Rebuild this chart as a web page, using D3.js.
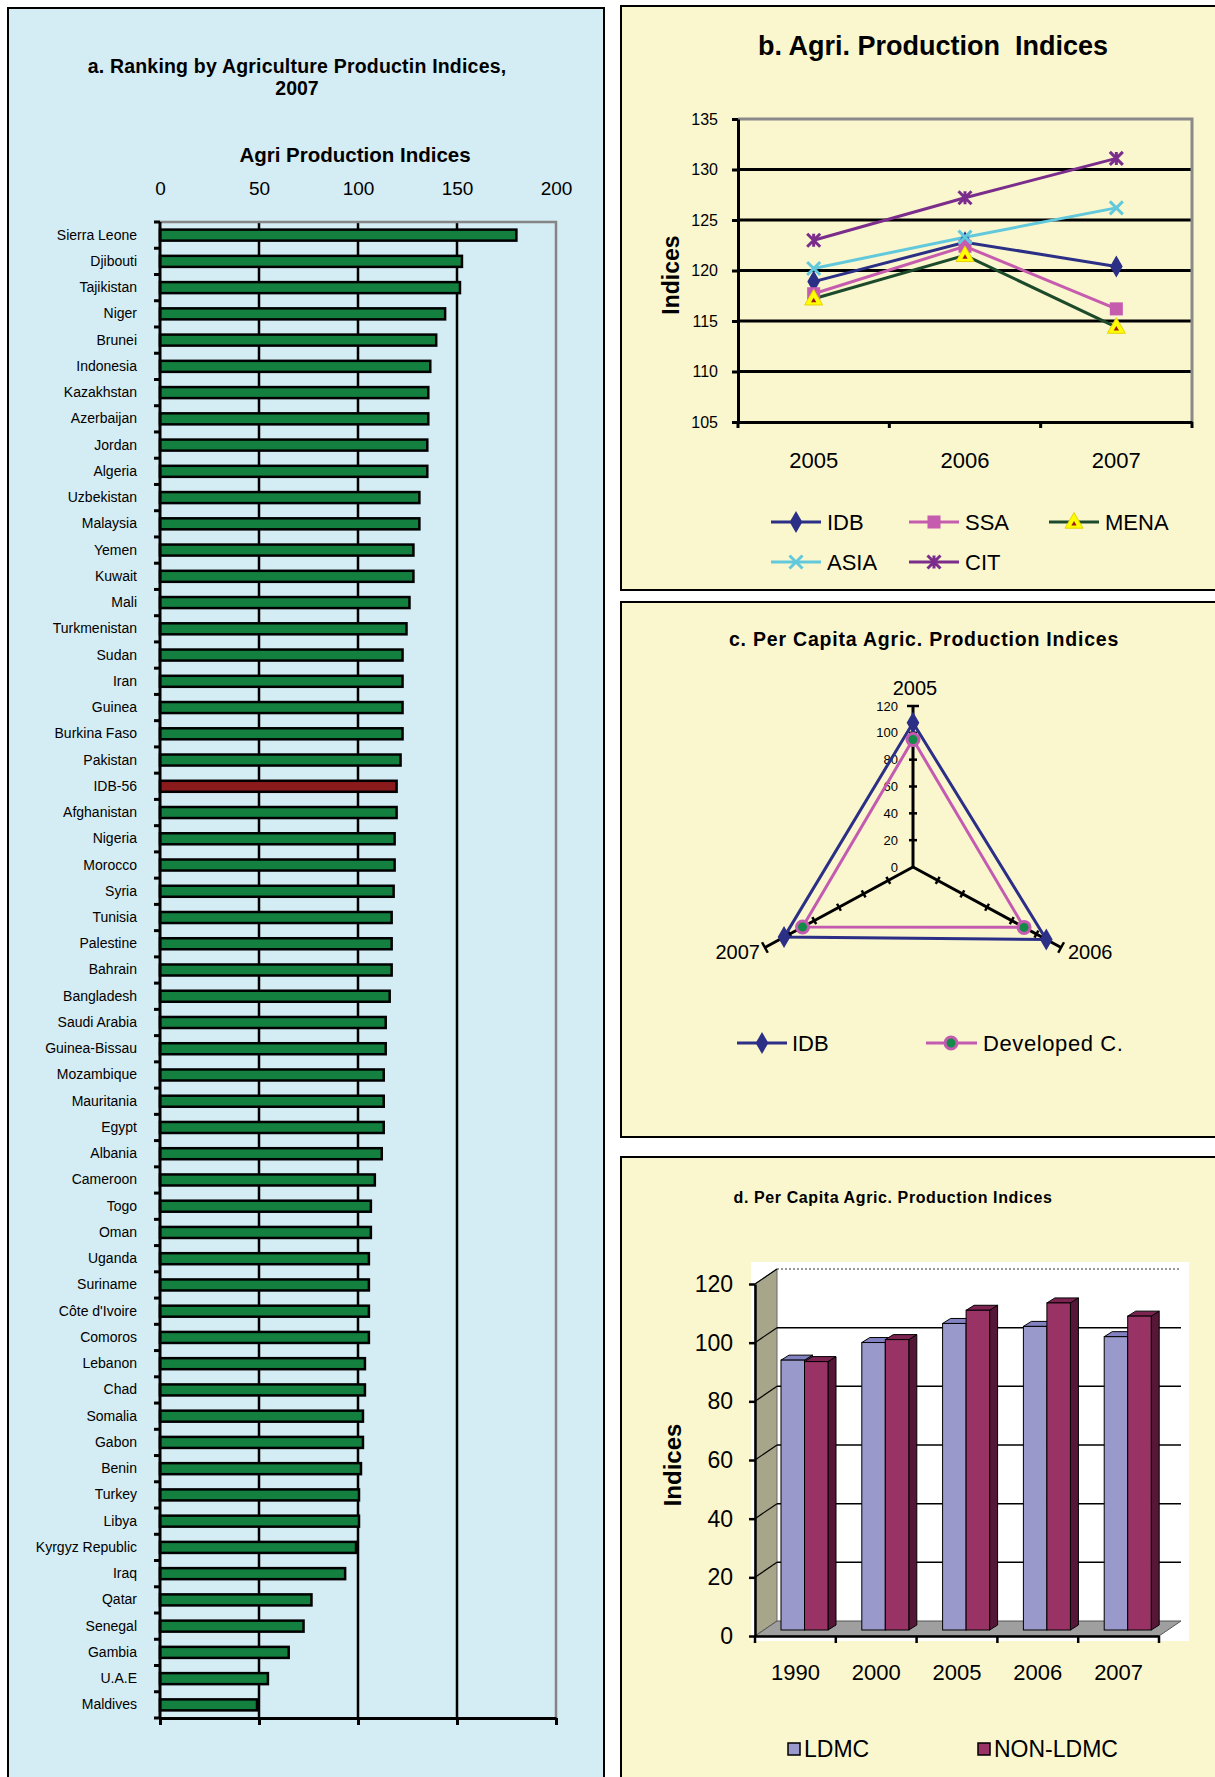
<!DOCTYPE html>
<html lang="en">
  <head>
    <meta charset="UTF-8" />
    <title>Agricultural Production Indices</title>
    <script src="https://d3js.org/d3.v7.min.js"></script>
    <style>
      body {
        margin: 0;
        padding: 0;
        background: #fff;
      }
      svg {
        display: block;
        font-family: "Liberation Sans", Arial, Helvetica, sans-serif;
      }
    </style>
  </head>
  <body>
    <svg width="1215" height="1777"></svg>
    <script>
      // ---------- data ----------
      // a. ranking 2007
      const countries = [
        "Sierra Leone", "Djibouti", "Tajikistan", "Niger", "Brunei", "Indonesia",
        "Kazakhstan", "Azerbaijan", "Jordan", "Algeria", "Uzbekistan", "Malaysia",
        "Yemen", "Kuwait", "Mali", "Turkmenistan", "Sudan", "Iran", "Guinea",
        "Burkina Faso", "Pakistan", "IDB-56", "Afghanistan", "Nigeria", "Morocco",
        "Syria", "Tunisia", "Palestine", "Bahrain", "Bangladesh", "Saudi Arabia",
        "Guinea-Bissau", "Mozambique", "Mauritania", "Egypt", "Albania", "Cameroon",
        "Togo", "Oman", "Uganda", "Suriname", "Côte d'Ivoire", "Comoros", "Lebanon",
        "Chad", "Somalia", "Gabon", "Benin", "Turkey", "Libya", "Kyrgyz Republic",
        "Iraq", "Qatar", "Senegal", "Gambia", "U.A.E", "Maldives"
      ];
      const indices2007 = [
        180, 152.5, 151.5, 144, 139.5, 136.5,
        135.5, 135.5, 135, 135, 131, 131,
        128, 128, 126, 124.5, 122.5, 122.5, 122.5,
        122.5, 121.5, 119.5, 119.5, 118.5, 118.5,
        118, 117, 117, 117, 116, 114,
        114, 113, 113, 113, 112, 108.5,
        106.5, 106.5, 105.5, 105.5, 105.5, 105.5, 103.5,
        103.5, 102.5, 102.5, 101.5, 100.5, 100.5, 99,
        93.5, 76.5, 72.5, 65, 54.5, 49
      ];
      const highlightA = "IDB-56";
      const ticksA = [0, 50, 100, 150, 200];

      // b. agri production indices
      const yearsB = ["2005", "2006", "2007"];
      const idbB = [118.9, 122.8, 120.4];
      const ssaB = [117.7, 122.4, 116.2];
      const menaB = [117.2, 121.5, 114.4];
      const asiaB = [120.2, 123.3, 126.2];
      const citB = [123.0, 127.2, 131.1];
      const ticksB = [105, 110, 115, 120, 125, 130, 135];

      // c. per capita (radar)
      const yearsC = ["2005", "2006", "2007"];
      const idbC = [107.5, 108, 104.5];
      const developedC = [95, 90, 89.5];
      const ticksC = [0, 20, 40, 60, 80, 100, 120];

      // d. per capita (3d bars)
      const yearsD = ["1990", "2000", "2005", "2006", "2007"];
      const ldmcD = [92, 98, 104.5, 103.5, 100];
      const nonLdmcD = [91.5, 99, 109, 111.5, 107];
      const ticksD = [0, 20, 40, 60, 80, 100, 120];

      // ---------- setup ----------
      const svg = d3.select("svg");
      const font = '"Liberation Sans", Arial, Helvetica, sans-serif';

      function frame(x, y, w, h, fill) {
        svg.append("rect")
          .attr("x", x).attr("y", y).attr("width", w).attr("height", h)
          .attr("fill", fill).attr("stroke", "#000").attr("stroke-width", 2);
      }
      frame(8, 8, 596, 1800, "#d4ecf3");
      frame(621, 6, 640, 584, "#faf7cf");
      frame(621, 602, 640, 535, "#faf7cf");
      frame(621, 1157, 640, 660, "#faf7cf");

      function styleAxis(g, size, width) {
        g.attr("font-family", font).attr("font-size", size);
        g.selectAll("path, line").attr("stroke", "#000").attr("stroke-width", width);
        g.selectAll("text").attr("fill", "#000");
      }

      // ---------- a. ranking ----------
      const gA = svg.append("g");
      const xA = d3.scaleLinear().domain([0, 200]).range([160, 556]);
      const yA = d3.scaleBand().domain(countries).range([222, 1718])
        .paddingInner(0.58).paddingOuter(0.29);

      gA.append("text").attr("x", 297).attr("y", 73).attr("text-anchor", "middle")
        .attr("font-size", 19.5).attr("font-weight", "bold").attr("letter-spacing", 0.2)
        .text("a. Ranking by Agriculture Productin Indices,");
      gA.append("text").attr("x", 297).attr("y", 95).attr("text-anchor", "middle")
        .attr("font-size", 19.5).attr("font-weight", "bold").text("2007");
      gA.append("text").attr("x", 355).attr("y", 162).attr("text-anchor", "middle")
        .attr("font-size", 20.5).attr("font-weight", "bold").text("Agri Production Indices");

      // grid + gray border
      gA.selectAll(".gridA").data(ticksA.slice(1, -1)).join("line")
        .attr("class", "gridA")
        .attr("x1", d => xA(d)).attr("x2", d => xA(d))
        .attr("y1", 222).attr("y2", 1718)
        .attr("stroke", "#000").attr("stroke-width", 2.5);
      gA.append("path")
        .attr("d", `M${xA(0)},222H${xA(200)}V1718`)
        .attr("fill", "none").attr("stroke", "#858585").attr("stroke-width", 2.5);

      gA.selectAll(".barA").data(countries).join("rect")
        .attr("class", "barA")
        .attr("x", xA(0))
        .attr("y", d => yA(d))
        .attr("width", (d, i) => xA(indices2007[i]) - xA(0))
        .attr("height", yA.bandwidth())
        .attr("fill", d => (d === highlightA ? "#8b1a1c" : "#13803f"))
        .attr("stroke", "#000").attr("stroke-width", 2.5);

      // top labels
      const topA = gA.append("g").attr("transform", "translate(0,195)")
        .call(d3.axisTop(xA).tickValues(ticksA).tickSize(0).tickPadding(0));
      topA.select(".domain").remove();
      styleAxis(topA, 19, 0);

      // bottom axis
      const botA = gA.append("g").attr("transform", "translate(0,1718)")
        .call(d3.axisBottom(xA).tickValues(ticksA).tickSize(7).tickSizeOuter(0).tickFormat(""));
      styleAxis(botA, 12, 3);

      // left axis with category labels
      const leftA = gA.append("g").attr("transform", `translate(${xA(0)},0)`)
        .call(d3.axisLeft(yA).tickSize(0).tickPadding(23));
      leftA.select(".domain").remove();
      styleAxis(leftA, 14, 0);
      gA.append("line").attr("x1", xA(0)).attr("x2", xA(0)).attr("y1", 222).attr("y2", 1718)
        .attr("stroke", "#000").attr("stroke-width", 3);
      gA.selectAll(".tickA").data(d3.range(countries.length + 1)).join("line")
        .attr("class", "tickA")
        .attr("x1", xA(0) - 6).attr("x2", xA(0))
        .attr("y1", i => 222 + i * yA.step()).attr("y2", i => 222 + i * yA.step())
        .attr("stroke", "#000").attr("stroke-width", 3);

      // ---------- markers ----------
      function marker(g, type, x, y, color) {
        if (type === "diamond") {
          g.append("path").attr("d", d3.symbol(d3.symbolDiamond, 140)())
            .attr("transform", `translate(${x},${y})`).attr("fill", color);
        } else if (type === "square") {
          g.append("path").attr("d", d3.symbol(d3.symbolSquare, 170)())
            .attr("transform", `translate(${x},${y})`).attr("fill", color);
        } else if (type === "triangle") {
          g.append("path").attr("d", d3.symbol(d3.symbolTriangle, 140)())
            .attr("transform", `translate(${x},${y + 1})`)
            .attr("fill", "#ffff00").attr("stroke", "#e6d200").attr("stroke-width", 1);
          g.append("path").attr("d", d3.symbol(d3.symbolTriangle, 12)())
            .attr("transform", `translate(${x},${y + 2})`).attr("fill", "#a01818");
        } else if (type === "x" || type === "star") {
          const s = 6.5;
          let d = `M${x - s},${y - s}L${x + s},${y + s}M${x - s},${y + s}L${x + s},${y - s}`;
          if (type === "star") d += `M${x},${y - s}L${x},${y + s}`;
          g.append("path").attr("d", d).attr("stroke", color)
            .attr("stroke-width", 3).attr("fill", "none");
        }
      }

      // ---------- b. line chart ----------
      const gB = svg.append("g");
      const xB = d3.scaleBand().domain(yearsB).range([738, 1192]);
      const yB = d3.scaleLinear().domain([105, 135]).range([422, 119]);

      gB.append("text").attr("x", 933).attr("y", 55).attr("text-anchor", "middle")
        .attr("font-size", 27).attr("font-weight", "bold").style("white-space", "pre")
        .text("b. Agri. Production  Indices");

      gB.selectAll(".gridB").data(ticksB.slice(1, -1)).join("line")
        .attr("class", "gridB")
        .attr("x1", 738).attr("x2", 1192)
        .attr("y1", d => yB(d)).attr("y2", d => yB(d))
        .attr("stroke", "#000").attr("stroke-width", 3);
      gB.append("path").attr("d", `M738,${yB(135)}H1192V${yB(105)}`)
        .attr("fill", "none").attr("stroke", "#8a8a8a").attr("stroke-width", 3);

      const leftB = gB.append("g").attr("transform", "translate(738,0)")
        .call(d3.axisLeft(yB).tickValues(ticksB).tickSize(6).tickSizeOuter(0).tickPadding(14));
      styleAxis(leftB, 16, 3);

      const botB = gB.append("g").attr("transform", `translate(0,${yB(105)})`)
        .call(d3.axisBottom(xB).tickSize(0).tickSizeOuter(0).tickPadding(30));
      styleAxis(botB, 22, 3);
      gB.selectAll(".tickB").data(d3.range(yearsB.length + 1)).join("line")
        .attr("class", "tickB")
        .attr("x1", i => 738 + i * xB.step()).attr("x2", i => 738 + i * xB.step())
        .attr("y1", yB(105)).attr("y2", yB(105) + 6)
        .attr("stroke", "#000").attr("stroke-width", 3);

      gB.append("text").attr("transform", "translate(679,275) rotate(-90)")
        .attr("text-anchor", "middle").attr("font-size", 23).attr("font-weight", "bold")
        .text("Indices");

      const seriesB = [
        { name: "IDB", values: idbB, color: "#2b2f86", type: "diamond" },
        { name: "SSA", values: ssaB, color: "#c65cae", type: "square" },
        { name: "MENA", values: menaB, color: "#1d4a2a", type: "triangle" },
        { name: "ASIA", values: asiaB, color: "#62c9dd", type: "x" },
        { name: "CIT", values: citB, color: "#7b2d8b", type: "star" }
      ];
      const lineB = d3.line()
        .x((d, i) => xB(yearsB[i]) + xB.bandwidth() / 2)
        .y(d => yB(d));
      seriesB.forEach(s => {
        gB.append("path").datum(s.values).attr("d", lineB)
          .attr("fill", "none").attr("stroke", s.color).attr("stroke-width", 3);
      });
      seriesB.forEach(s => {
        s.values.forEach((v, i) => {
          marker(gB, s.type, xB(yearsB[i]) + xB.bandwidth() / 2, yB(v), s.color);
        });
      });

      // legend b
      const legPosB = [[771, 522], [909, 522], [1049, 522], [771, 562], [909, 562]];
      seriesB.forEach((s, i) => {
        const [lx, ly] = legPosB[i];
        gB.append("line").attr("x1", lx).attr("x2", lx + 50).attr("y1", ly).attr("y2", ly)
          .attr("stroke", s.color).attr("stroke-width", 3);
        marker(gB, s.type, lx + 25, ly, s.color);
        gB.append("text").attr("x", lx + 56).attr("y", ly + 8)
          .attr("font-size", 22).text(s.name);
      });

      // ---------- c. radar ----------
      const gC = svg.append("g");
      const cxC = 913, cyC = 867;
      const rxC = d3.scaleLinear().domain([0, 120]).range([0, 171]);
      const ryC = d3.scaleLinear().domain([0, 120]).range([0, 161]);
      const angC = d3.scalePoint().domain(yearsC).range([0, (4 * Math.PI) / 3]);
      const ptC = (year, v) => [
        cxC + Math.sin(angC(year)) * rxC(v),
        cyC - Math.cos(angC(year)) * ryC(v)
      ];

      gC.append("text").attr("x", 924).attr("y", 646).attr("text-anchor", "middle")
        .attr("font-size", 19.5).attr("font-weight", "bold").attr("letter-spacing", 0.8)
        .text("c. Per Capita Agric. Production Indices");

      // tick labels on 2005 axis
      gC.selectAll(".tlabC").data(ticksC).join("text")
        .attr("class", "tlabC")
        .attr("x", cxC - 15).attr("y", d => ptC("2005", d)[1]).attr("dy", "0.35em")
        .attr("text-anchor", "end").attr("font-size", 13).text(d => d);

      yearsC.forEach(yr => {
        const end = ptC(yr, 120);
        gC.append("line").attr("x1", cxC).attr("y1", cyC).attr("x2", end[0]).attr("y2", end[1])
          .attr("stroke", "#000").attr("stroke-width", 3);
        const len = Math.hypot(end[0] - cxC, end[1] - cyC);
        const ux = (end[0] - cxC) / len, uy = (end[1] - cyC) / len;
        ticksC.slice(1).forEach(v => {
          const p = ptC(yr, v);
          const h = v === 120 ? 6 : 4;
          gC.append("line")
            .attr("x1", p[0] - uy * h).attr("y1", p[1] + ux * h)
            .attr("x2", p[0] + uy * h).attr("y2", p[1] - ux * h)
            .attr("stroke", "#000").attr("stroke-width", 2.5);
        });
      });

      gC.append("text").attr("x", 915).attr("y", 695).attr("text-anchor", "middle")
        .attr("font-size", 20).text("2005");
      gC.append("text").attr("x", 1068).attr("y", 959).attr("text-anchor", "start")
        .attr("font-size", 20).text("2006");
      gC.append("text").attr("x", 760).attr("y", 959).attr("text-anchor", "end")
        .attr("font-size", 20).text("2007");

      const radarLine = d3.line().curve(d3.curveLinearClosed);
      const idbPts = yearsC.map((yr, i) => ptC(yr, idbC[i]));
      const devPts = yearsC.map((yr, i) => ptC(yr, developedC[i]));
      gC.append("path").attr("d", radarLine(idbPts))
        .attr("fill", "none").attr("stroke", "#2b2f86").attr("stroke-width", 3);
      gC.append("path").attr("d", radarLine(devPts))
        .attr("fill", "none").attr("stroke", "#c35bb0").attr("stroke-width", 3);
      idbPts.forEach(p => marker(gC, "diamond", p[0], p[1], "#2b2f86"));
      devPts.forEach(p => {
        gC.append("circle").attr("cx", p[0]).attr("cy", p[1]).attr("r", 6)
          .attr("fill", "#138a47").attr("stroke", "#c35bb0").attr("stroke-width", 3);
      });

      // legend c
      gC.append("line").attr("x1", 737).attr("x2", 787).attr("y1", 1043).attr("y2", 1043)
        .attr("stroke", "#2b2f86").attr("stroke-width", 3);
      marker(gC, "diamond", 762, 1043, "#2b2f86");
      gC.append("text").attr("x", 792).attr("y", 1051).attr("font-size", 22).text("IDB");
      gC.append("line").attr("x1", 926).attr("x2", 977).attr("y1", 1043).attr("y2", 1043)
        .attr("stroke", "#c35bb0").attr("stroke-width", 3);
      gC.append("circle").attr("cx", 951).attr("cy", 1043).attr("r", 6)
        .attr("fill", "#138a47").attr("stroke", "#c35bb0").attr("stroke-width", 3);
      gC.append("text").attr("x", 983).attr("y", 1051).attr("font-size", 22)
        .attr("letter-spacing", 0.6).text("Developed C.");

      // ---------- d. 3d bars ----------
      const gD = svg.append("g");
      const xD = d3.scaleBand().domain(yearsD).range([755, 1159]);
      const subD = d3.scaleBand().domain(["LDMC", "NON-LDMC"]).range([17, 64]);
      const yD = d3.scaleLinear().domain([0, 120]).range([1636, 1284]);
      const wallDx = 22, wallDy = -15;
      const barDx = 9, barDy = -6;
      const depDx = 8, depDy = -5;

      gD.append("text").attr("x", 893).attr("y", 1203).attr("text-anchor", "middle")
        .attr("font-size", 16).attr("font-weight", "bold").attr("letter-spacing", 0.6)
        .text("d. Per Capita Agric. Production Indices");

      gD.append("rect").attr("x", 751).attr("y", 1262).attr("width", 438).attr("height", 379)
        .attr("fill", "#fff");

      const x0D = xD.range()[0], x1D = xD.range()[1];
      // left wall
      gD.append("path")
        .attr("d", `M${x0D},${yD(0)}V${yD(120)}L${x0D + wallDx},${yD(120) + wallDy}V${yD(0) + wallDy}Z`)
        .attr("fill", "#a7a68a").attr("stroke", "#666").attr("stroke-width", 1);
      // floor
      gD.append("path")
        .attr("d", `M${x0D},${yD(0)}H${x1D}L${x1D + wallDx},${yD(0) + wallDy}H${x0D + wallDx}Z`)
        .attr("fill", "#9f9f9f").attr("stroke", "#555").attr("stroke-width", 1);
      // back wall grid
      gD.selectAll(".gridD").data(ticksD.slice(1, -1)).join("line")
        .attr("class", "gridD")
        .attr("x1", x0D + wallDx).attr("x2", x1D + wallDx)
        .attr("y1", d => yD(d) + wallDy).attr("y2", d => yD(d) + wallDy)
        .attr("stroke", "#000").attr("stroke-width", 1.5);
      gD.append("line")
        .attr("x1", x0D + wallDx).attr("x2", x1D + wallDx)
        .attr("y1", yD(120) + wallDy).attr("y2", yD(120) + wallDy)
        .attr("stroke", "#777").attr("stroke-width", 1.5).attr("stroke-dasharray", "2,2");
      gD.selectAll(".diagD").data(ticksD.slice(1)).join("line")
        .attr("class", "diagD")
        .attr("x1", x0D).attr("x2", x0D + wallDx)
        .attr("y1", d => yD(d)).attr("y2", d => yD(d) + wallDy)
        .attr("stroke", "#000").attr("stroke-width", 1.2);

      // bars
      const seriesD = [
        { name: "LDMC", values: ldmcD, front: "#9999cc", top: "#8282c2", side: "#6a6aa6" },
        { name: "NON-LDMC", values: nonLdmcD, front: "#993366", top: "#7d2352", side: "#561638" }
      ];
      yearsD.forEach((yr, i) => {
        seriesD.forEach(s => {
          const bx0 = xD(yr) + subD(s.name) + barDx;
          const bx1 = bx0 + subD.bandwidth();
          const yb = yD(0) + barDy;
          const yt = yD(s.values[i]) + barDy;
          gD.append("path")
            .attr("d", `M${bx1},${yt}L${bx1 + depDx},${yt + depDy}V${yb + depDy}L${bx1},${yb}Z`)
            .attr("fill", s.side).attr("stroke", "#000").attr("stroke-width", 1);
          gD.append("path")
            .attr("d", `M${bx0},${yt}H${bx1}L${bx1 + depDx},${yt + depDy}H${bx0 + depDx}Z`)
            .attr("fill", s.top).attr("stroke", "#000").attr("stroke-width", 1);
          gD.append("rect").attr("x", bx0).attr("y", yt)
            .attr("width", bx1 - bx0).attr("height", yb - yt)
            .attr("fill", s.front).attr("stroke", "#000").attr("stroke-width", 1);
        });
      });

      // axes d
      const leftD = gD.append("g").attr("transform", `translate(${x0D},0)`)
        .call(d3.axisLeft(yD).tickValues(ticksD).tickSize(6).tickSizeOuter(0).tickPadding(16));
      styleAxis(leftD, 23, 2.5);
      const botD = gD.append("g").attr("transform", `translate(0,${yD(0)})`)
        .call(d3.axisBottom(xD).tickSize(0).tickSizeOuter(0).tickPadding(28));
      styleAxis(botD, 22, 2.5);
      gD.selectAll(".tickD").data(d3.range(yearsD.length + 1)).join("line")
        .attr("class", "tickD")
        .attr("x1", i => x0D + i * xD.step()).attr("x2", i => x0D + i * xD.step())
        .attr("y1", yD(0)).attr("y2", yD(0) + 7)
        .attr("stroke", "#000").attr("stroke-width", 2.5);

      gD.append("text").attr("transform", "translate(681,1465) rotate(-90)")
        .attr("text-anchor", "middle").attr("font-size", 24).attr("font-weight", "bold")
        .text("Indices");

      // legend d
      const legPosD = [788, 978];
      seriesD.forEach((s, i) => {
        gD.append("rect").attr("x", legPosD[i]).attr("y", 1743).attr("width", 12).attr("height", 12)
          .attr("fill", s.front).attr("stroke", "#000").attr("stroke-width", 1.5);
        gD.append("text").attr("x", legPosD[i] + 16).attr("y", 1757)
          .attr("font-size", 23).text(s.name);
      });
    </script>
  </body>
</html>
